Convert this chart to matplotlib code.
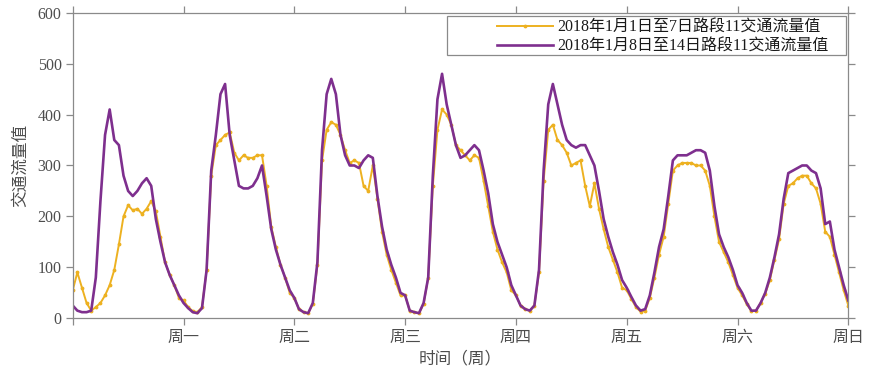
import numpy as np
import matplotlib
matplotlib.use('Agg')
from matplotlib import pyplot as plt
from matplotlib.patches import Rectangle

plt.rcParams['font.family'] = ['Liberation Serif', 'Noto Sans CJK SC']
plt.rcParams['axes.unicode_minus'] = False

# hourly readings, one row per day (Mon..Sun), last value = end of Sunday
week1 = [55, 90, 60, 30, 15, 22, 30, 45, 65, 95, 145, 200, 222, 212, 215, 205, 215, 230, 210, 160, 110, 85, 65, 40,
         35, 22, 14, 12, 22, 95, 280, 340, 350, 360, 365, 325, 310, 320, 315, 315, 320, 320, 260, 180, 140, 105, 80, 50,
         40, 18, 12, 10, 28, 105, 310, 370, 385, 380, 360, 330, 305, 310, 305, 260, 250, 300, 235, 170, 125, 95, 70, 45,
         45, 15, 12, 10, 28, 80, 260, 370, 410, 400, 380, 340, 330, 320, 310, 320, 315, 270, 220, 170, 135, 110, 90, 55,
         45, 25, 18, 15, 25, 90, 270, 370, 380, 350, 340, 325, 300, 305, 310, 260, 220, 265, 215, 175, 140, 115, 90, 60,
         55, 38, 22, 13, 15, 40, 80, 125, 160, 225, 290, 300, 305, 305, 305, 300, 300, 290, 260, 200, 150, 130, 110, 85,
         60, 45, 28, 14, 15, 30, 48, 75, 115, 155, 225, 260, 265, 275, 280, 280, 265, 255, 225, 170, 160, 125, 90, 55,
         25]
week2 = [25, 15, 12, 12, 15, 80, 230, 360, 410, 350, 340, 280, 250, 240, 250, 265, 275, 260, 195, 150, 110, 85, 65, 45,
         30, 20, 12, 10, 20, 95, 290, 360, 440, 460, 360, 310, 260, 255, 255, 260, 275, 300, 240, 175, 135, 105, 80, 55,
         40, 18, 12, 10, 30, 110, 330, 440, 470, 440, 360, 320, 300, 300, 295, 310, 320, 315, 240, 180, 135, 105, 80, 50,
         45, 15, 12, 10, 30, 80, 280, 430, 480, 420, 380, 340, 315, 320, 330, 340, 330, 290, 245, 185, 150, 125, 100, 65,
         45, 25, 18, 15, 25, 95, 290, 420, 460, 420, 380, 350, 340, 335, 340, 340, 320, 300, 250, 195, 160, 130, 105, 75,
         60, 42, 25, 15, 18, 45, 90, 140, 175, 240, 310, 320, 320, 320, 325, 330, 330, 325, 290, 220, 165, 140, 120, 95,
         65, 50, 30, 15, 15, 30, 50, 80, 120, 165, 235, 285, 290, 295, 300, 300, 290, 285, 255, 185, 190, 135, 100, 65,
         35]
day_labels = ['', '周一', '周二', '周三', '周四', '周五', '周六', '周日']
names = ['2018年1月1日至7日路段11交通流量值', '2018年1月8日至14日路段11交通流量值']

t = np.arange(len(week1)) / 24.0

fig = plt.figure(figsize=(8.69, 3.79), dpi=100)
ax = fig.add_axes([0.0837, 0.1602, 0.8925, 0.8063])

ax.plot(t, week1, color='#EDB120', lw=1.4, marker='.', ms=3.5, label=names[0])
ax.plot(t, week2, color='#7E2F8E', lw=1.9, label=names[1])

ax.set_xlim(0, 7)
ax.set_ylim(0, 600)
ax.set_xticks(np.arange(8))
ax.set_xticklabels(day_labels)
ax.set_yticks(np.arange(0, 601, 100))

grey = '#8a8a8a'
for s in ax.spines.values():
    s.set_color(grey)
    s.set_linewidth(0.9)
ax.tick_params(direction='out', length=5, width=0.9, color=grey,
               labelcolor='#4d4d4d', labelsize=11.5, pad=3,
               top=True, right=True)
ax.set_xlabel('时间（周）', fontsize=12, color='#4d4d4d', labelpad=4)
ax.set_ylabel('交通流量值', fontsize=12, color='#4d4d4d', labelpad=6)

# legend frame drawn by hand (MATLAB-like wide box)
ax.add_patch(Rectangle((0.4826, 0.8616), 0.5144, 0.1274, transform=ax.transAxes,
                       facecolor='white', edgecolor=grey, lw=0.9, zorder=5))
leg = ax.legend(loc='upper right', bbox_to_anchor=(0.984, 1.0), frameon=False,
                fontsize=11.5, handlelength=3.5, handletextpad=0.3,
                labelspacing=0.2, borderaxespad=0.15, borderpad=0.3)
leg.set_zorder(6)
for txt in leg.get_texts():
    txt.set_color('#1a1a1a')

fig.savefig('out.png', dpi=100)
